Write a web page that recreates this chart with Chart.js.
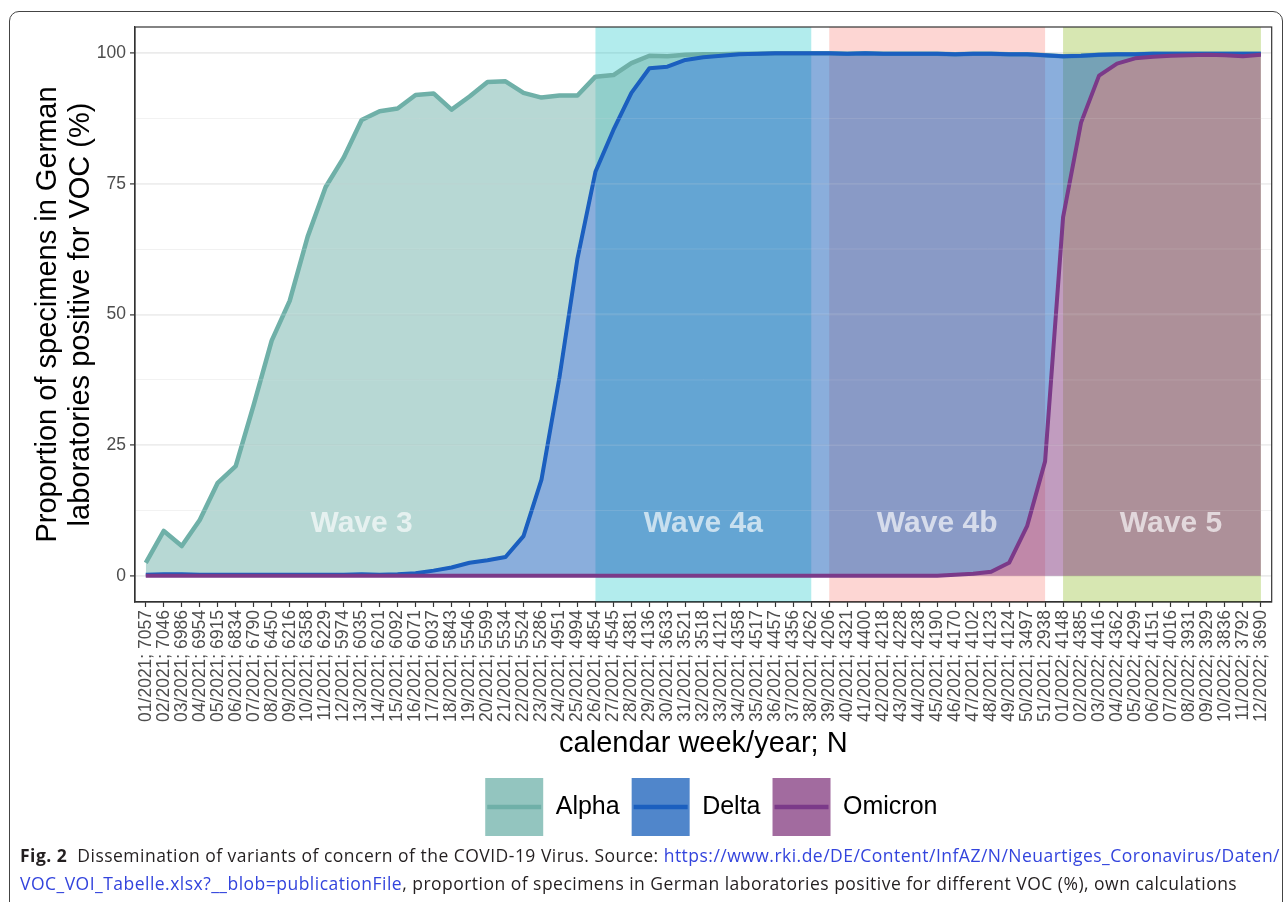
<!DOCTYPE html>
<html>
<head>
<meta charset="utf-8">
<script src="https://cdn.jsdelivr.net/npm/chart.js@4.4.1/dist/chart.umd.min.js"></script>
<style>
  html, body { margin: 0; padding: 0; background: #fff; }
  body { width: 1285px; height: 902px; position: relative; overflow: hidden; }
  #frame { position: absolute; left: 9px; top: 11px; width: 1274px; height: 940px; border: 1px solid #444; border-radius: 10px; box-sizing: border-box; }
  #chart { position: absolute; left: 0; top: 0; }
  #caption { position: absolute; left: 20px; top: 841px; font-family: "Open Sans", "Noto Sans", sans-serif; font-size: 17.5px; letter-spacing: 0.48px; line-height: 28px; color: #231f20; white-space: nowrap; }
  #caption a { color: #3344dd; text-decoration: none; }
</style>
</head>
<body>
<div id="frame"></div>
<canvas id="chart" width="1285" height="850"></canvas>
<div id="caption"><b>Fig. 2</b>&nbsp; Dissemination of variants of concern of the COVID-19 Virus. Source: <a href="#">https://www.rki.de/DE/Content/InfAZ/N/Neuartiges_Coronavirus/Daten/</a><br><a href="#">VOC_VOI_Tabelle.xlsx?__blob=publicationFile</a>, proportion of specimens in German laboratories positive for different VOC (%), own calculations</div>
<script>
// calendar weeks and number of specimens (N)
const weeks = [
  '01/2021', '02/2021', '03/2021', '04/2021', '05/2021', '06/2021', '07/2021', '08/2021', '09/2021', '10/2021',
  '11/2021', '12/2021', '13/2021', '14/2021', '15/2021', '16/2021', '17/2021', '18/2021', '19/2021', '20/2021',
  '21/2021', '22/2021', '23/2021', '24/2021', '25/2021', '26/2021', '27/2021', '28/2021', '29/2021', '30/2021',
  '31/2021', '32/2021', '33/2021', '34/2021', '35/2021', '36/2021', '37/2021', '38/2021', '39/2021', '40/2021',
  '41/2021', '42/2021', '43/2021', '44/2021', '45/2021', '46/2021', '47/2021', '48/2021', '49/2021', '50/2021',
  '51/2021', '01/2022', '02/2022', '03/2022', '04/2022', '05/2022', '06/2022', '07/2022', '08/2022', '09/2022',
  '10/2022', '11/2022', '12/2022'
];
const specimens = [
  7057, 7046, 6986, 6954, 6915, 6834, 6790, 6450, 6216, 6358,
  6229, 5974, 6035, 6201, 6092, 6071, 6037, 5843, 5546, 5599,
  5534, 5524, 5286, 4951, 4994, 4854, 4545, 4381, 4136, 3633,
  3521, 3518, 4121, 4358, 4517, 4457, 4356, 4262, 4206, 4321,
  4400, 4218, 4228, 4238, 4190, 4170, 4102, 4123, 4124, 3497,
  2938, 4148, 4385, 4416, 4362, 4299, 4151, 4016, 3931, 3929,
  3836, 3792, 3690
];

// proportion positive (%)
const alpha = [
  2.5, 8.6, 5.7, 10.7, 17.8, 21.0, 32.7, 45.0, 52.6, 64.9,
  74.4, 80.0, 87.2, 88.9, 89.4, 92.0, 92.3, 89.2, 91.7, 94.5,
  94.6, 92.4, 91.5, 91.9, 91.9, 95.5, 95.8, 98.1, 99.5, 99.4,
  99.7, 99.8, 99.8, 99.9, 99.9, 100, 100, 100, 100, 99.9,
  100, 99.9, 99.9, 99.9, 99.9, 99.8, 99.9, 99.9, 99.8, 99.8,
  99.6, 99.4, 99.5, 99.7, 99.8, 99.8, 99.9, 99.9, 99.9, 99.9,
  99.9, 99.9, 99.9
];
const delta = [
  0.2, 0.3, 0.3, 0.2, 0.2, 0.2, 0.2, 0.2, 0.2, 0.2,
  0.2, 0.2, 0.3, 0.2, 0.3, 0.5, 1.0, 1.6, 2.5, 3.0,
  3.6, 7.6, 18.4, 38.0, 60.7, 77.3, 85.3, 92.4, 97.1, 97.4,
  98.7, 99.2, 99.5, 99.8, 99.9, 100, 100, 100, 100, 99.9,
  100, 99.9, 99.9, 99.9, 99.9, 99.8, 99.9, 99.9, 99.8, 99.8,
  99.6, 99.4, 99.5, 99.7, 99.8, 99.8, 99.9, 99.9, 99.9, 99.9,
  99.9, 99.9, 99.9
];
const omicron = [
  0, 0, 0, 0, 0, 0, 0, 0, 0, 0,
  0, 0, 0, 0, 0, 0, 0, 0, 0, 0,
  0, 0, 0, 0, 0, 0, 0, 0, 0, 0,
  0, 0, 0, 0, 0, 0, 0, 0, 0, 0,
  0, 0, 0, 0, 0, 0.2, 0.4, 0.8, 2.5, 9.5,
  21.9, 68.6, 86.7, 95.7, 98.0, 99.0, 99.3, 99.5, 99.6, 99.7,
  99.6, 99.4, 99.7
];
const yTickLabels = [0, 25, 50, 75, 100];

// waves
const waveNames = ['Wave 3', 'Wave 4a', 'Wave 4b', 'Wave 5'];
const waveFrom = ['01/2021', '26/2021', '39/2021', '01/2022'];
const waveTo = ['25/2021', '38/2021', '51/2021', '12/2022'];
const waveLabelAt = ['13/2021', '32/2021', '45/2021', '07/2022'];
const waveLabelY = 10;

// styles
const lineColors = ['#6fb0a8', '#1b5fbf', '#7b3a89'];
const fillColors = ['rgba(111,177,169,0.5)', 'rgba(21,93,185,0.5)', 'rgba(131,58,127,0.5)'];
const keyColors = ['rgba(111,177,169,0.75)', 'rgba(21,93,185,0.75)', 'rgba(131,58,127,0.75)'];
const waveShade = [null, 'rgba(0,191,196,0.3)', 'rgba(248,118,109,0.3)', 'rgba(124,174,0,0.3)'];
const keySize = 58;
const legendShift = 8;

const labels = weeks.map((w, i) => w + '; ' + specimens[i]);
const toPoints = arr => arr.map((v, i) => ({x: i, y: v}));

Chart.defaults.font.family = '"Liberation Sans", Arial, Helvetica, sans-serif';

const wavePlugin = {
  id: 'waves',
  afterLayout(chart) {
    // ggplot centres the legend a bit right of the canvas centre
    chart.legend.left += legendShift;
    chart.legend.right += legendShift;
  },
  beforeDatasetsDraw(chart) {
    const {ctx, chartArea: a, scales: {x}} = chart;
    ctx.save();
    waveNames.forEach((n, i) => {
      if (!waveShade[i]) return;
      const x0 = x.getPixelForValue(weeks.indexOf(waveFrom[i]));
      const x1 = x.getPixelForValue(weeks.indexOf(waveTo[i]));
      ctx.fillStyle = waveShade[i];
      ctx.fillRect(x0, a.top, x1 - x0, a.bottom - a.top);
    });
    ctx.restore();
  },
  afterDatasetsDraw(chart) {
    const {ctx, chartArea: a, scales: {x, y}} = chart;
    ctx.save();
    // grid shows faintly through the areas
    ctx.strokeStyle = 'rgba(255,255,255,0.15)';
    y.ticks.forEach(t => {
      if (t.value <= 0 || t.value >= 100) return;
      const py = y.getPixelForValue(t.value);
      ctx.lineWidth = t.value % 25 === 0 ? 1.8 : 1;
      ctx.beginPath();
      ctx.moveTo(a.left, py);
      ctx.lineTo(a.right, py);
      ctx.stroke();
    });
    ctx.font = 'bold 30px "Liberation Sans", Arial, sans-serif';
    ctx.fillStyle = 'rgba(255,255,255,0.66)';
    ctx.textAlign = 'center';
    ctx.textBaseline = 'middle';
    waveNames.forEach((n, i) => {
      ctx.fillText(n, x.getPixelForValue(weeks.indexOf(waveLabelAt[i])), y.getPixelForValue(waveLabelY));
    });
    ctx.strokeStyle = '#333';
    ctx.lineWidth = 1.2;
    ctx.strokeRect(a.left, a.top, a.right - a.left, a.bottom - a.top);
    ctx.restore();
  },
  afterDraw(chart) {
    const ctx = chart.ctx;
    ctx.save();
    chart.legend.legendHitBoxes.forEach((hb, i) => {
      const cy = hb.top + keySize / 2;
      ctx.strokeStyle = lineColors[i];
      ctx.lineWidth = 4.5;
      ctx.beginPath();
      ctx.moveTo(hb.left + 2, cy);
      ctx.lineTo(hb.left + keySize - 2, cy);
      ctx.stroke();
    });
    ctx.restore();
  }
};

const isMajor = c => c.tick && c.tick.value % 25 === 0;

const config = {
  type: 'line',
  data: {
    datasets: [
      {label: 'Alpha', data: toPoints(alpha), borderColor: lineColors[0], backgroundColor: fillColors[0], fill: 1, order: 3, borderWidth: 4.5},
      {label: 'Delta', data: toPoints(delta), borderColor: lineColors[1], backgroundColor: fillColors[1], fill: 2, order: 2, borderWidth: 4},
      {label: 'Omicron', data: toPoints(omicron), borderColor: lineColors[2], backgroundColor: fillColors[2], fill: 'origin', order: 1, borderWidth: 4}
    ]
  },
  options: {
    responsive: false,
    animation: false,
    devicePixelRatio: 1,
    layout: {padding: {top: 27, left: 10, right: 10, bottom: 4}},
    elements: {
      point: {radius: 0},
      line: {tension: 0, borderJoinStyle: 'round'}
    },
    scales: {
      x: {
        type: 'linear',
        min: -0.6,
        max: weeks.length - 0.4,
        afterFit: s => { s.height = 164; },
        ticks: {
          stepSize: 1,
          includeBounds: false,
          autoSkip: false,
          minRotation: 90,
          maxRotation: 90,
          padding: 3,
          color: '#4d4d4d',
          font: {size: 17.5},
          callback: v => labels[v]
        },
        grid: {drawOnChartArea: false, drawTicks: true, tickLength: 5, tickColor: '#333', tickWidth: 1.2},
        border: {display: true, color: '#333', width: 1.2},
        title: {display: true, text: 'calendar week/year; N', color: '#000', font: {size: 29, lineHeight: 1.2}, padding: {top: 0, bottom: 4.6}}
      },
      y: {
        min: -5,
        max: 105,
        afterFit: s => { s.width = 125; },
        ticks: {
          stepSize: 12.5,
          includeBounds: false,
          padding: 4,
          color: '#4d4d4d',
          font: {size: 17.5},
          callback: v => yTickLabels.includes(v) ? v : ''
        },
        grid: {
          color: c => isMajor(c) ? '#ebebeb' : '#f0f0f0',
          lineWidth: c => isMajor(c) ? 1.8 : 1,
          tickColor: c => isMajor(c) ? '#333' : 'rgba(0,0,0,0)',
          tickLength: 5,
          tickWidth: 1.2
        },
        border: {display: true, color: '#333', width: 1.2},
        title: {
          display: true,
          text: ['Proportion of specimens in German', 'laboratories positive for VOC (%)'],
          color: '#000',
          font: {size: 29, lineHeight: 1.15},
          padding: {top: 21, bottom: 0}
        }
      }
    },
    plugins: {
      tooltip: {enabled: false},
      legend: {
        position: 'bottom',
        fullSize: false,
        labels: {
          boxWidth: keySize,
          boxHeight: keySize,
          padding: 12,
          color: '#000',
          font: {size: 25},
          generateLabels: chart => chart.data.datasets.map((ds, i) => ({
            text: ds.label,
            fillStyle: keyColors[i],
            strokeStyle: 'rgba(0,0,0,0)',
            lineWidth: 0,
            fontColor: '#000',
            datasetIndex: i
          }))
        }
      }
    }
  },
  plugins: [wavePlugin]
};

const myChart = new Chart(document.getElementById('chart'), config);
</script>
</body>
</html>
